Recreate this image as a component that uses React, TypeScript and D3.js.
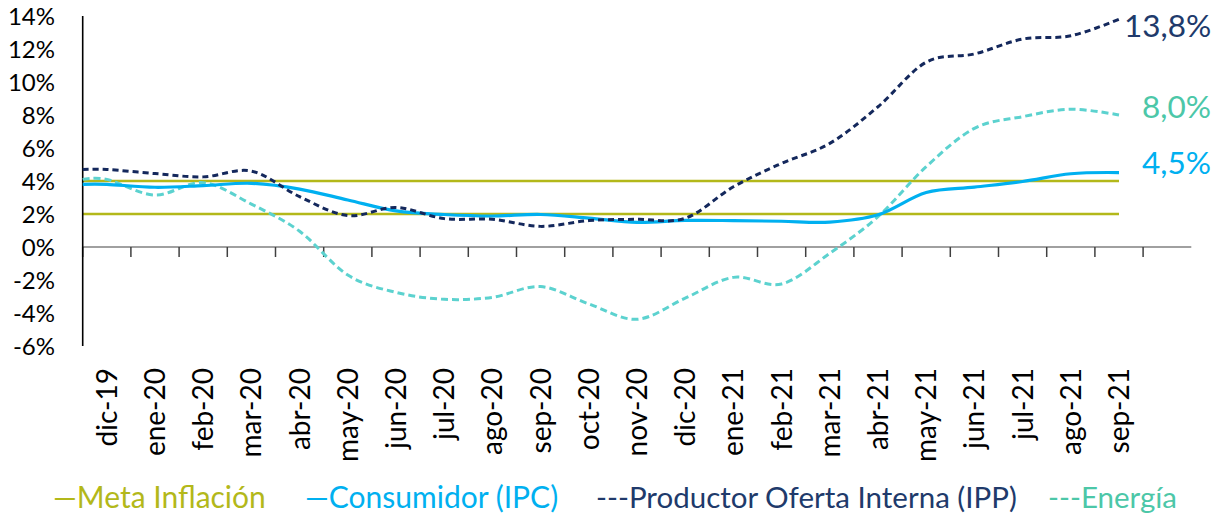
import React from "react";
import * as d3 from "d3";

const categories = [
  "dic-19", "ene-20", "feb-20", "mar-20", "abr-20", "may-20", "jun-20", "jul-20",
  "ago-20", "sep-20", "oct-20", "nov-20", "dic-20", "ene-21", "feb-21", "mar-21",
  "abr-21", "may-21", "jun-21", "jul-21", "ago-21", "sep-21",
];

const metaInferior = [2, 2, 2, 2, 2, 2, 2, 2, 2, 2, 2, 2, 2, 2, 2, 2, 2, 2, 2, 2, 2, 2];
const metaSuperior = [4, 4, 4, 4, 4, 4, 4, 4, 4, 4, 4, 4, 4, 4, 4, 4, 4, 4, 4, 4, 4, 4];

const ipc = [3.8, 3.62, 3.72, 3.86, 3.51, 2.85, 2.19, 1.97, 1.88, 1.97, 1.75, 1.49, 1.61, 1.6, 1.56, 1.51, 1.95, 3.3, 3.63, 3.97, 4.44, 4.51];
const ipp = [4.7, 4.45, 4.25, 4.6, 3.05, 1.9, 2.4, 1.72, 1.68, 1.25, 1.6, 1.68, 1.74, 3.65, 5.07, 6.28, 8.5, 11.2, 11.7, 12.6, 12.8, 13.8];
const energia = [4.1, 3.15, 3.9, 2.6, 0.95, -1.7, -2.75, -3.17, -3.05, -2.4, -3.45, -4.38, -3.1, -1.84, -2.24, -0.38, 1.84, 4.87, 7.19, 7.9, 8.35, 8.0];

const yTicks = [-6, -4, -2, 0, 2, 4, 6, 8, 10, 12, 14];

const COL_META = "#B3B81A";
const COL_IPC = "#00B0F0";
const COL_IPP = "#14285C";
const COL_IPP_TXT = "#203A6B";
const COL_ENE = "#5CD2CF";
const COL_ENE_TXT = "#4CC7A8";

const FONT = "Lato, Carlito, Calibri, 'Open Sans', sans-serif";

export default function App() {
  const W = 1221;
  const H = 516;
  const x0 = 82.7;
  const bw = 48.2;
  // 22 labelled months plus one empty slot at the right end of the axis
  const slots = d3.range(categories.length + 1);
  const x = d3
    .scaleBand<number>()
    .domain(slots)
    .range([x0, x0 + bw * slots.length])
    .paddingInner(0)
    .paddingOuter(0);
  const cx = (i: number) => (x(i) as number) + x.bandwidth() / 2;
  const y = d3.scaleLinear().domain([-6, 14]).range([346, 16]);

  const line = d3
    .line<[number, number]>()
    .x((d) => d[0])
    .y((d) => y(d[1]));

  const pts = (arr: number[]): [number, number][] => [
    [x(0) as number, arr[0]],
    ...arr.map((v, i) => [cx(i), v] as [number, number]),
  ];

  const straight = (arr: number[]) => line.curve(d3.curveLinear)(pts(arr)) || "";
  const smooth = (arr: number[]) => line.curve(d3.curveCardinal.tension(0))(pts(arr)) || "";

  const lastX = cx(categories.length - 1);
  const last = categories.length - 1;

  return (
    <svg
      width={W}
      height={H}
      style={{ position: "absolute", left: 0, top: 0, background: "#fff" }}
      fontFamily={FONT}
    >
      {/* meta lines */}
      <path d={straight(metaSuperior)} fill="none" stroke={COL_META} strokeWidth={2.5} />
      <path d={straight(metaInferior)} fill="none" stroke={COL_META} strokeWidth={2.5} />

      {/* x axis */}
      <line x1={x(0)} x2={x0 + bw * slots.length} y1={y(0)} y2={y(0)} stroke="#808080" strokeWidth={1.6} />
      {d3.range(categories.length + 1).map((i) => (
        <line key={i} x1={x(i)} x2={x(i)} y1={y(0)} y2={y(0) + 10} stroke="#404040" strokeWidth={1.5} />
      ))}

      {/* y axis */}
      <line x1={x0} x2={x0} y1={y(14)} y2={y(-6)} stroke="#000" strokeWidth={1.6} />
      {yTicks.map((t) => (
        <text key={t} x={55} y={y(t)} dy="0.36em" textAnchor="end" fontSize={24} fill="#000">
          {`${t}%`}
        </text>
      ))}

      {/* series */}
      <path d={smooth(energia)} fill="none" stroke={COL_ENE} strokeWidth={3} strokeDasharray="7,4" />
      <path d={smooth(ipc)} fill="none" stroke={COL_IPC} strokeWidth={3.2} />
      <path d={smooth(ipp)} fill="none" stroke={COL_IPP} strokeWidth={3} strokeDasharray="6,4" />

      {/* x labels */}
      {categories.map((c, i) => (
        <text
          key={c}
          transform={`translate(${cx(i)},368) rotate(-90)`}
          dy="0.36em"
          textAnchor="end"
          fontSize={28}
          fill="#000"
        >
          {c}
        </text>
      ))}

      {/* end labels */}
      <text x={lastX + 5} y={y(ipp[last]) + 6} dy="0.36em" fontSize={31.5} fill={COL_IPP_TXT}>13,8%</text>
      <text x={lastX + 23} y={y(energia[last]) - 8} dy="0.36em" fontSize={31.5} fill={COL_ENE_TXT}>8,0%</text>
      <text x={lastX + 23} y={y(ipc[last]) - 10} dy="0.36em" fontSize={31.5} fill={COL_IPC}>4,5%</text>

      {/* legend */}
      <text x={53} y={497} dy="0.36em" fontSize={30} fill={COL_META}>—Meta Inflación</text>
      <text x={305} y={497} dy="0.36em" fontSize={30} fill={COL_IPC}>—Consumidor (IPC)</text>
      <text x={596} y={497} dy="0.36em" fontSize={29.5} fill={COL_IPP_TXT}>---Productor Oferta Interna (IPP)</text>
      <text x={1048} y={497} dy="0.36em" fontSize={29.5} fill={COL_ENE_TXT}>---Energía</text>
    </svg>
  );
}
